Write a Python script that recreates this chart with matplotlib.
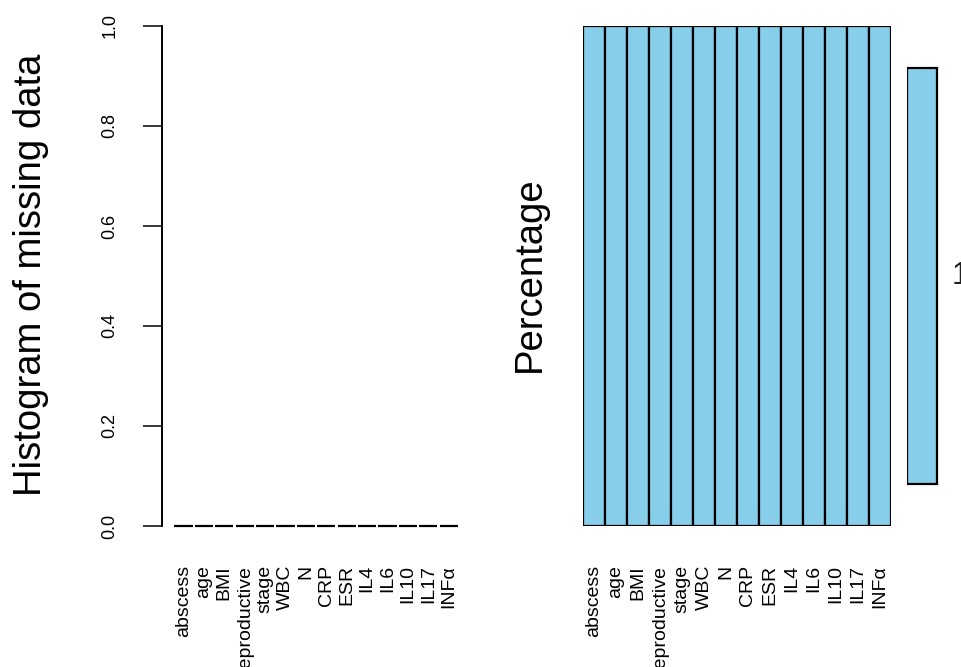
import matplotlib
matplotlib.use("Agg")
import matplotlib.pyplot as plt
import numpy as np

plt.rcParams["font.family"] = ["Liberation Sans", "DejaVu Sans"]

# Variables and their proportion of missing values
variables = ["abscess", "age", "BMI", "reproductive", "stage", "WBC", "N",
             "CRP", "ESR", "IL4", "IL6", "IL10", "IL17", "INF\u03b1"]
missing_prop = [0, 0, 0, 0, 0, 0, 0, 0, 0, 0, 0, 0, 0, 0]
# Combination pattern (1 = observed) and its frequency
pattern = [1, 1, 1, 1, 1, 1, 1, 1, 1, 1, 1, 1, 1, 1]
combo_freq = [1]
combo_labels = ["1"]
yticks = [0.0, 0.2, 0.4, 0.6, 0.8, 1.0]

W, H = 962, 667
fig = plt.figure(figsize=(W / 100, H / 100), dpi=100)


def px_axes(x0, x1, ytop, ybot):
    return fig.add_axes([x0 / W, (H - ybot) / H, (x1 - x0) / W, (ybot - ytop) / H])


blue = "#87CEEB"
x = np.arange(len(variables))

# Left panel: histogram of missing proportions
ax1 = px_axes(162, 472, 26, 526)
ax1.bar(x, missing_prop, width=0.9, color=blue, edgecolor="black",
        linewidth=1.6, clip_on=False)
ax1.set_xlim(-1.054, 14.142)
ax1.set_ylim(0, 1)
for s in ["top", "right", "bottom"]:
    ax1.spines[s].set_visible(False)
ax1.spines["left"].set_linewidth(1.4)
ax1.spines["left"].set_bounds(0, 1)
ax1.set_yticks(yticks)
ax1.set_yticklabels([f"{v:.1f}" for v in yticks], rotation=90, va="center",
                    fontsize=13)
ax1.tick_params(axis="y", length=13.5, width=1.1, pad=18)
ax1.set_xticks(x)
ax1.set_xticklabels(variables, rotation=90, ha="center", va="top", fontsize=14)
ax1.tick_params(axis="x", length=0, pad=28)
fig.text(31 / W, (H - 275) / H, "Histogram of missing data", rotation=90,
         ha="center", va="center", fontsize=27.5)

# Middle panel: combination pattern
ax2 = px_axes(583, 891, 26, 526)
ax2.bar(x, pattern, width=1.0, color=blue, edgecolor="black", linewidth=1.6)
ax2.set_xlim(-0.5, 13.5)
ax2.set_ylim(0, 1)
for s in ax2.spines.values():
    s.set_visible(False)
ax2.set_yticks([])
ax2.set_xticks(x)
ax2.set_xticklabels(variables, rotation=90, ha="center", va="top", fontsize=14)
ax2.tick_params(axis="x", length=0, pad=28)
fig.text(530 / W, (H - 274) / H, "Percentage", rotation=90,
         ha="center", va="center", fontsize=27.5)

# Right panel: frequency of the combination
ax3 = px_axes(907, 962, 26, 526)
ax3.barh([0.5], combo_freq, height=0.833, left=0, color=blue,
         edgecolor="black", linewidth=1.6)
ax3.set_xlim(0, 55 / 30)
ax3.set_ylim(0, 1)
ax3.axis("off")
ax3.text(1.49, 0.5, combo_labels[0], ha="left", va="center", fontsize=22,
         color="#222222", clip_on=False)

fig.savefig("out.png", dpi=100, facecolor="white")
